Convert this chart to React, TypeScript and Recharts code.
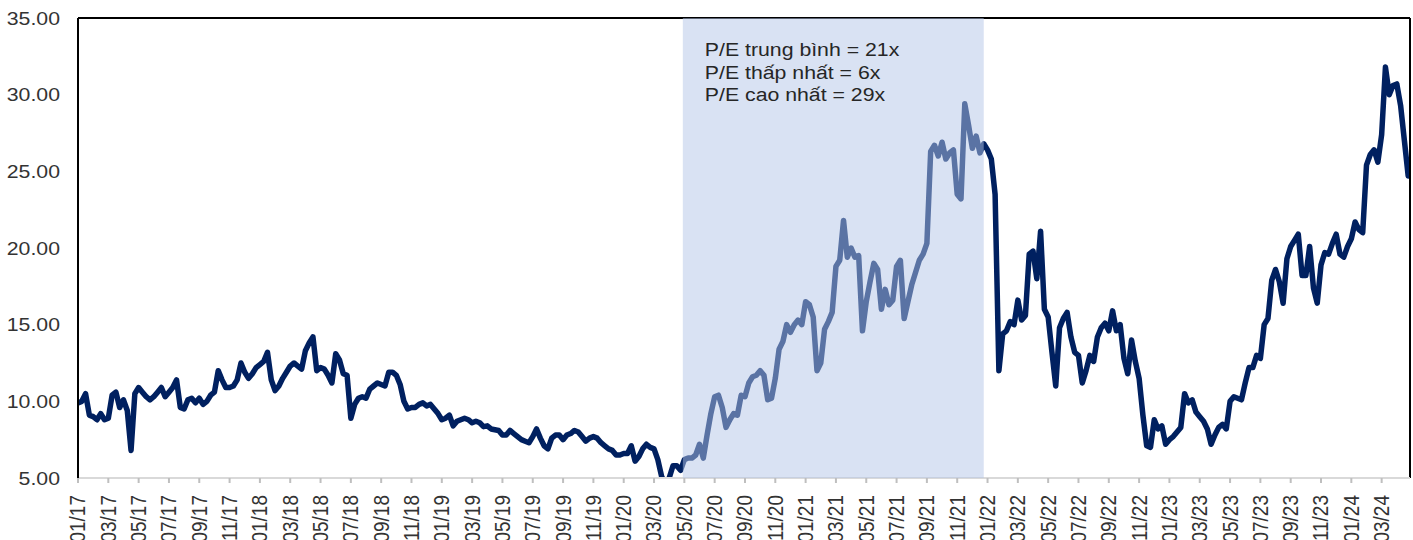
import React from "react";
import { LineChart, Line, XAxis, YAxis, ReferenceArea, ReferenceLine } from "recharts";

// P/E series, one value every quarter month starting 01/2017
const pe2017 = [9.9,10.0,10.5,9.1,9.0,8.8,9.2,8.8,8.9,10.4,10.6,9.6,10.1,9.4,6.8,10.5,10.9,10.6,10.3,10.1,10.3,10.6,10.9,10.3,10.6,10.9,11.4,9.6,9.5,10.1,10.2,9.9,10.2,9.8,10.0,10.4,10.6,12.0,11.4,10.9,10.9,11.0,11.4,12.5,11.9,11.5,11.8,12.2];
const pe2018 = [12.4,12.6,13.2,11.4,10.7,11.0,11.5,11.9,12.3,12.5,12.3,12.1,13.3,13.8,14.2,12.0,12.2,12.1,11.7,11.2,13.1,12.7,11.8,11.7,8.9,9.8,10.2,10.3,10.2,10.8,11.0,11.2,11.1,11.0,11.9,11.9,11.7,11.1,10.0,9.5,9.6,9.6,9.8,9.9,9.7,9.8,9.5,9.2];
const pe2019 = [8.8,8.9,9.1,8.4,8.7,8.8,8.9,8.8,8.6,8.7,8.6,8.35,8.4,8.2,8.15,8.1,7.8,7.8,8.1,7.9,7.7,7.5,7.4,7.3,7.7,8.2,7.6,7.1,6.9,7.6,7.8,7.8,7.5,7.8,7.9,8.1,8.0,7.7,7.4,7.6,7.7,7.6,7.3,7.1,6.9,6.8,6.5,6.5];
const pe2020 = [6.6,6.6,7.1,6.1,6.4,6.9,7.2,7.0,6.9,6.2,5.1,4.6,5.0,5.8,5.8,5.5,6.2,6.3,6.3,6.5,7.2,6.3,7.8,9.2,10.3,10.4,9.6,8.3,8.8,9.2,9.1,10.4,10.3,11.2,11.6,11.7,12.0,11.7,10.1,10.2,11.5,13.4,13.9,15.0,14.5,15.0,15.3,15.0];
const pe2021 = [16.5,16.3,15.5,12.0,12.5,14.7,15.2,15.8,18.8,19.2,21.8,19.4,20.0,19.4,19.5,14.6,16.5,17.8,19.0,18.6,16.0,17.3,16.3,16.6,18.8,19.2,15.4,16.5,17.6,18.4,19.2,19.6,20.3,26.3,26.7,26.0,26.9,25.8,26.2,26.4,23.5,23.2,29.4,28.0,26.5,27.3,26.2,26.8];
const pe2022 = [26.4,25.8,23.5,12.0,14.4,14.6,15.2,15.0,16.6,15.3,15.6,19.6,19.8,18.0,21.1,16.0,15.5,13.2,11.0,14.8,15.4,15.8,14.2,13.2,13.0,11.2,12.0,13.0,12.6,14.2,14.8,15.1,14.6,15.9,14.6,15.0,12.8,11.8,14.0,12.6,11.5,9.1,7.1,7.0,8.8,8.2,8.4,7.2];
const pe2023 = [7.5,7.7,8.0,8.3,10.5,9.9,10.1,9.3,9.0,8.7,8.2,7.2,7.8,8.3,8.5,8.2,10.0,10.3,10.2,10.1,11.2,12.2,12.2,13.0,12.8,15.0,15.4,17.9,18.6,17.8,16.4,19.3,20.1,20.5,20.9,18.2,18.2,20.1,17.4,16.4,18.9,19.7,19.6,20.3,20.9,19.6,19.4,20.1];
const pe2024 = [20.6,21.7,21.2,21.0,25.4,26.1,26.4,25.6,27.4,31.8,30.0,30.6,30.7,29.3,27.0,24.7];

const STEP_MONTHS = 0.25;
const X_MAX = 87.87; // months after 01/2017 where the axis ends
const HIGHLIGHT_START = 39.9; // ~05/2020
const HIGHLIGHT_END = 59.75; // ~12/2021

const xTickLabels = [
  "01/17","03/17","05/17","07/17","09/17","11/17",
  "01/18","03/18","05/18","07/18","09/18","11/18",
  "01/19","03/19","05/19","07/19","09/19","11/19",
  "01/20","03/20","05/20","07/20","09/20","11/20",
  "01/21","03/21","05/21","07/21","09/21","11/21",
  "01/22","03/22","05/22","07/22","09/22","11/22",
  "01/23","03/23","05/23","07/23","09/23","11/23",
  "01/24","03/24",
];
const xTicks = xTickLabels.map((_, i) => i * 2);
const yTicks = [5, 10, 15, 20, 25, 30, 35];

const annotationLines = [
  "P/E trung bình = 21x",
  "P/E thấp nhất = 6x",
  "P/E cao nhất = 29x",
];

const allValues = [...pe2017, ...pe2018, ...pe2019, ...pe2020, ...pe2021, ...pe2022, ...pe2023, ...pe2024];
const data = allValues.map((v, i) => ({ m: i * STEP_MONTHS, pe: v }));

const FONT = "'Liberation Sans', Arial, sans-serif";
const SX = 1.12;

const YTick = (props: any) => {
  const { x, y, payload } = props;
  return (
    <text
      transform={`translate(${x},${y}) scale(${SX},1)`}
      textAnchor="end"
      dy="0.35em"
      fontSize={19}
      fontFamily={FONT}
      fill="#333333"
    >
      {Number(payload.value).toFixed(2)}
    </text>
  );
};

const XTick = (props: any) => {
  const { x, y, payload } = props;
  const idx = xTicks.indexOf(payload.value);
  return (
    <text
      transform={`translate(${x},${y}) scale(${SX},1) rotate(-90)`}
      textAnchor="end"
      dy="0.35em"
      fontSize={19}
      fontFamily={FONT}
      fill="#333333"
    >
      {xTickLabels[idx]}
    </text>
  );
};

const renderAnnotation = (props: any) => {
  const vb = props.viewBox || { x: 683, y: 18 };
  const x0 = vb.x + 22;
  const y0 = vb.y;
  return (
    <g>
      {annotationLines.map((t, i) => (
        <text
          key={i}
          transform={`translate(${x0},${y0 + 38 + i * 22.5}) scale(${SX},1)`}
          fontSize={19}
          fontFamily={FONT}
          fill="#262626"
        >
          {t}
        </text>
      ))}
    </g>
  );
};

export default function App() {
  return (
    <div style={{ position: "absolute", left: 0, top: 0, background: "#fff" }}>
      <LineChart
        width={1413}
        height={540}
        data={data}
        margin={{ top: 18, right: 3, bottom: 0, left: 0 }}
      >
        <XAxis
          dataKey="m"
          type="number"
          domain={[0, X_MAX]}
          ticks={xTicks}
          interval={0}
          allowDataOverflow
          height={62}
          axisLine={{ stroke: "#D9D9D9", strokeWidth: 2 }}
          tickLine={{ stroke: "#BFBFBF", strokeWidth: 2 }}
          tickSize={5}
          tickMargin={12}
          tick={<XTick />}
        />
        <YAxis
          type="number"
          domain={[5, 35]}
          ticks={yTicks}
          interval={0}
          allowDataOverflow
          width={78}
          axisLine={{ stroke: "#000", strokeWidth: 2 }}
          tickLine={false}
          tickSize={0}
          tickMargin={18}
          tick={<YTick />}
        />
        <Line
          type="linear"
          dataKey="pe"
          stroke="#002060"
          strokeWidth={5.5}
          strokeLinejoin="round"
          strokeLinecap="round"
          dot={false}
          activeDot={false}
          isAnimationActive={false}
        />
        <ReferenceArea
          x1={HIGHLIGHT_START}
          x2={HIGHLIGHT_END}
          y1={5}
          y2={35}
          fill="#B4C6E7"
          fillOpacity={0.5}
          stroke="none"
          zIndex={1000}
          label={renderAnnotation}
        />
        <ReferenceLine y={35} stroke="#000" strokeWidth={2} />
        <ReferenceLine x={X_MAX} stroke="#000" strokeWidth={2} />
      </LineChart>
    </div>
  );
}
